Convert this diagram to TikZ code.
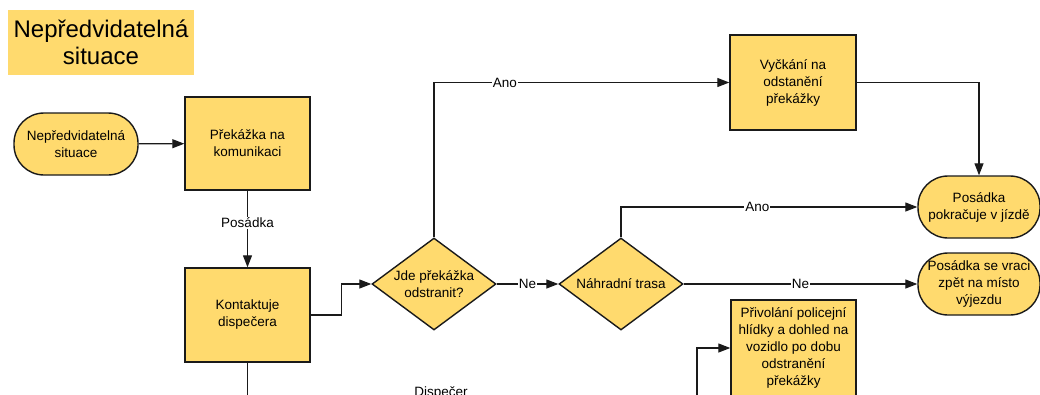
\documentclass[tikz,border=0pt]{standalone}
\usepackage{fontspec}
\setmainfont{Liberation Sans}
\usetikzlibrary{shapes.geometric,arrows.meta}
\definecolor{ylw}{HTML}{FFDA6E}
\definecolor{ink}{HTML}{1A1A1A}
\begin{document}
\begin{tikzpicture}[x=1pt,y=-1pt,
  every node/.style={font=\fontsize{13.5}{17}\selectfont,align=center},
  proc/.style={draw=ink,fill=ylw,line width=1.4pt,inner sep=1pt},
  term/.style={draw=ink,fill=ylw,line width=1.4pt,rounded corners=30pt,
    minimum width=122,minimum height=62,inner sep=1pt},
  dec/.style={diamond,draw=ink,fill=ylw,line width=1.4pt,inner sep=0pt,
    shape aspect=1.35,minimum width=124,minimum height=92},
  arr/.style={draw=ink,line width=1.2pt,-{Triangle[length=12pt,width=9pt]}},
  lbl/.style={fill=white,inner sep=1pt}]

\clip (0,0) rectangle (1040,394);

% title
\node[fill=ylw,minimum width=186,minimum height=65,
  font=\fontsize{24}{27}\selectfont] (title) at (101,42.5) {Nepředvidatelná\\situace};

% steps
\node[term,minimum width=124] (start) at (76,144) {Nepředvidatelná\\situace};
\node[proc,minimum width=125,minimum height=93] (obst) at (247.5,143.5) {Překážka na\\komunikaci};
\node[proc,minimum width=125,minimum height=94] (call) at (247.5,315) {Kontaktuje\\dispečera};
\node[dec] (remove) at (434,284) {Jde překážka\\odstranit?};
\node[dec] (alt) at (621,284) {Náhradní trasa};
\node[proc,minimum width=126,minimum height=95] (wait) at (793,82.5) {Vyčkání na\\odstanění\\překážky};
\node[term] (go) at (979,207) {Posádka\\pokračuje v jízdě};
\node[term] (back) at (979,284) {Posádka se vraci\\zpět na místo\\výjezdu};
\node[proc,minimum width=125,minimum height=96] (police) at (793.5,348) {Přivolání policejní\\hlídky a dohled na\\vozidlo po dobu\\odstranění\\překážky};
\node[anchor=base] (disp) at (441,396) {Dispečer};

\coordinate (down) at (247.5,400);
\coordinate (up) at (697,400);

% connectors
\draw[arr] (start) -- (obst);
\draw[arr] (obst) -- node[lbl,pos=0.42]{Posádka} (call);
\draw[arr] (call.east) -- ++(31,0) |- (remove.west);
\draw[arr] (remove.north) |- node[lbl,pos=0.62]{Ano} (wait.west);
\draw[arr] (wait.east) -| (go.north);
\draw[arr] (remove) -- node[lbl]{Ne} (alt);
\draw[arr] (alt.north) |- node[lbl,pos=0.73]{Ano} (go.west);
\draw[arr] (alt) -- node[lbl]{Ne} (back);
\draw[arr] (up) |- (police.west);
\draw[draw=ink,line width=1.2pt] (call) -- (down);
\end{tikzpicture}
\end{document}
